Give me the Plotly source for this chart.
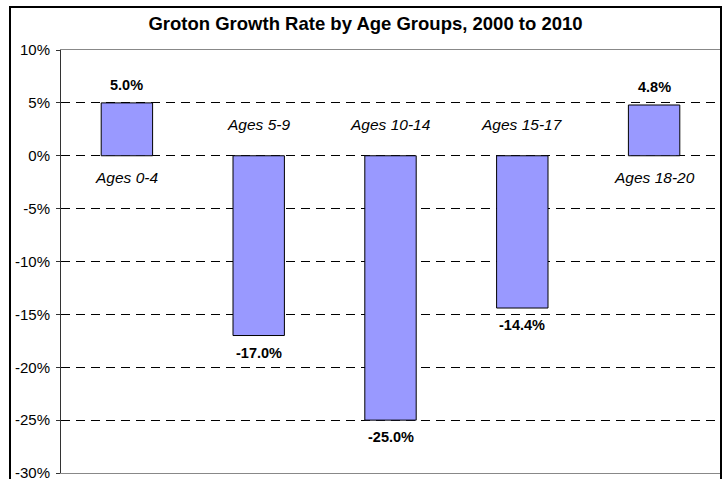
import plotly.graph_objects as go

categories = ["Ages 0-4", "Ages 5-9", "Ages 10-14", "Ages 15-17", "Ages 18-20"]
growth = [0.050, -0.170, -0.250, -0.144, 0.048]
title_text = "Groton Growth Rate by Age Groups, 2000 to 2010"
y_ticks = [0.10, 0.05, 0.0, -0.05, -0.10, -0.15, -0.20, -0.25, -0.30]
y_tick_text = ["10%", "5%", "0%", "-5%", "-10%", "-15%", "-20%", "-25%", "-30%"]

W, H = 723, 479
L, R, T, B = 61, 720, 50, 473  # plot area in pixels
FONT = "Liberation Sans, Arial, sans-serif"

fig = go.Figure()
fig.add_trace(go.Bar(
    x=categories, y=growth, width=0.39,
    marker=dict(color="#9999FF", line=dict(color="#000000", width=1)),
    hoverinfo="skip",
))

ann = []
for c, v in zip(categories, growth):
    # value label (bold)
    ann.append(dict(x=c, y=v, xref="x", yref="y", text=f"<b>{v*100:.1f}%</b>",
                    showarrow=False, yshift=18 if v >= 0 else -17,
                    font=dict(family=FONT, size=14.5, color="#000")))
    # category label (italic), opposite side of zero
    ann.append(dict(x=c, y=0, xref="x", yref="y", text=f"<i>{c}</i>",
                    showarrow=False, yshift=-22 if v >= 0 else 31,
                    font=dict(family=FONT, size=15.5, color="#000")))

pw, ph = R - L, B - T
def px(xp): return (xp - L) / pw
def py(yp): return (B - yp) / ph

shapes = [dict(type="rect", xref="paper", yref="paper",
               x0=px(10), x1=px(721), y0=py(500), y1=py(7),
               line=dict(color="#000", width=2), fillcolor="rgba(0,0,0,0)", layer="above")]

fig.update_layout(
    width=W, height=H,
    margin=dict(l=L, r=W - R, t=T, b=H - B, pad=0, autoexpand=False),
    paper_bgcolor="white", plot_bgcolor="white",
    showlegend=False,
    title=dict(text=f"<b>{title_text}</b>", x=365.5 / W, xanchor="center",
               y=1 - 24 / H, yanchor="middle", yref="container",
               font=dict(family=FONT, size=18.5, color="#000")),
    font=dict(family=FONT, size=14, color="#000"),
    annotations=ann,
    shapes=shapes,
)
fig.update_xaxes(showticklabels=False, showgrid=False, zeroline=False, automargin=False,
                 showline=True, linecolor="#888888", linewidth=1, mirror=True, ticks="")
fig.update_yaxes(range=[-0.30, 0.10], tickvals=y_ticks, ticktext=y_tick_text,
                 showgrid=True, gridcolor="#000000", gridwidth=1, griddash="9px,6px",
                 zeroline=False, showline=True, linecolor="#333333", linewidth=1,
                 mirror=True, ticks="outside", ticklen=4, tickcolor="#333333",
                 ticklabelstandoff=3, ticklabeloverflow="allow", automargin=False,
                 tickfont=dict(family=FONT, size=15, color="#000"))

fig.write_html("out.html", config={"displayModeBar": False},
               post_script="document.body.style.margin='0';")
